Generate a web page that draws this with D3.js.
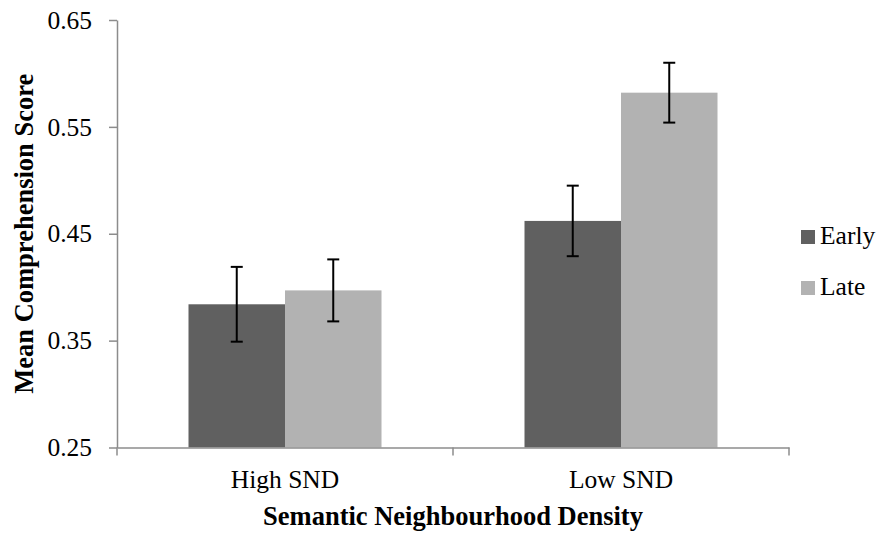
<!DOCTYPE html>
<html>
<head>
<meta charset="utf-8">
<script src="https://cdn.jsdelivr.net/npm/d3@7"></script>
<style>
	body { margin: 0; background: #fff; }
</style>
</head>
<body>
<div class="container"></div>
<script>
// chart data
var categories = ["High SND", "Low SND"];
var seriesNames = ["Early", "Late"];
var earlyValues = [0.384, 0.462];
var lateValues = [0.397, 0.582];
var earlyErrors = [0.035, 0.033];
var lateErrors = [0.029, 0.028];
var yTicks = [0.25, 0.35, 0.45, 0.55, 0.65];

(function() {
	var width = 879, height = 533;
	var margin = {left: 117, right: 90, top: 20, bottom: 86};
	var colors = {Early: "#606060", Late: "#b2b2b2"};
	var fontFamily = "'Liberation Serif', 'Times New Roman', serif";

	var svg = d3.select(".container").append("svg")
		.attr("width", width)
		.attr("height", height);

	var x0 = d3.scaleBand()
		.domain(categories)
		.range([margin.left, 789]);

	var x1 = d3.scaleBand()
		.domain(seriesNames)
		.range([0, 193]);

	var y = d3.scaleLinear()
		.domain([0.25, 0.65])
		.range([447.5, 20]);

	var rows = [];
	categories.forEach(function(c, i) {
		rows.push({cat: c, series: "Early", value: earlyValues[i], err: earlyErrors[i]});
		rows.push({cat: c, series: "Late", value: lateValues[i], err: lateErrors[i]});
	});

	var groupOffset = (x0.bandwidth() - 193) / 2;

	// bars
	svg.append("g").selectAll("rect")
		.data(rows)
		.enter().append("rect")
		.attr("x", function(d) { return x0(d.cat) + groupOffset + x1(d.series); })
		.attr("y", function(d) { return y(d.value); })
		.attr("width", x1.bandwidth())
		.attr("height", function(d) { return y(0.25) - y(d.value); })
		.style("fill", function(d) { return colors[d.series]; });

	// y axis
	var yAxis = d3.axisLeft(y)
		.tickValues(yTicks)
		.tickFormat(d3.format(".2f"))
		.tickSizeInner(8)
		.tickSizeOuter(0)
		.tickPadding(17);
	var gy = svg.append("g")
		.attr("transform", "translate(" + margin.left + ",0)")
		.call(yAxis);
	gy.select(".domain").attr("stroke", "#8c8c8c").attr("stroke-width", 1.5);
	gy.selectAll(".tick line").attr("stroke", "#8c8c8c").attr("stroke-width", 1.5);
	gy.selectAll(".tick text")
		.style("font-family", fontFamily)
		.style("font-size", "25.5px")
		.style("fill", "#000");

	// x axis
	var xAxis = d3.axisBottom(x0)
		.tickSize(0)
		.tickPadding(22);
	var gx = svg.append("g")
		.attr("transform", "translate(0," + y(0.25) + ")")
		.call(xAxis);
	gx.select(".domain").attr("stroke", "#8c8c8c").attr("stroke-width", 1.5);
	gx.selectAll(".tick text")
		.style("font-family", fontFamily)
		.style("font-size", "25.5px")
		.style("fill", "#000");

	// x axis boundary ticks
	var bounds = [margin.left, x0("Low SND"), 789];
	svg.append("g").selectAll("line")
		.data(bounds)
		.enter().append("line")
		.attr("x1", function(d) { return d; })
		.attr("x2", function(d) { return d; })
		.attr("y1", y(0.25))
		.attr("y2", y(0.25) + 8)
		.attr("stroke", "#8c8c8c")
		.attr("stroke-width", 1.5);

	// error bars
	var errG = svg.append("g").selectAll("g")
		.data(rows)
		.enter().append("g")
		.attr("transform", function(d) {
			return "translate(" + (x0(d.cat) + groupOffset + x1(d.series) + x1.bandwidth() / 2) + ",0)";
		});
	errG.append("line")
		.attr("x1", 0).attr("x2", 0)
		.attr("y1", function(d) { return y(d.value + d.err); })
		.attr("y2", function(d) { return y(d.value - d.err); })
		.attr("stroke", "#000").attr("stroke-width", 2);
	[1, -1].forEach(function(s) {
		errG.append("line")
			.attr("x1", -6).attr("x2", 6)
			.attr("y1", function(d) { return y(d.value + s * d.err); })
			.attr("y2", function(d) { return y(d.value + s * d.err); })
			.attr("stroke", "#000").attr("stroke-width", 2);
	});

	// axis titles
	svg.append("text")
		.attr("transform", "translate(33," + ((20 + 447.5) / 2) + ") rotate(-90)")
		.attr("text-anchor", "middle")
		.style("font-family", fontFamily)
		.style("font-size", "26.5px")
		.style("font-weight", "bold")
		.text("Mean Comprehension Score");

	svg.append("text")
		.attr("x", 453)
		.attr("y", 525)
		.attr("text-anchor", "middle")
		.style("font-family", fontFamily)
		.style("font-size", "26.5px")
		.style("font-weight", "bold")
		.text("Semantic Neighbourhood Density");

	// legend
	var legend = svg.append("g").selectAll("g")
		.data(seriesNames)
		.enter().append("g")
		.attr("transform", function(d, i) { return "translate(801," + (230 + i * 51) + ")"; });
	legend.append("rect")
		.attr("width", 14).attr("height", 14)
		.style("fill", function(d) { return colors[d]; });
	legend.append("text")
		.attr("x", 19)
		.attr("y", 14)
		.style("font-family", fontFamily)
		.style("font-size", "25.5px")
		.text(function(d) { return d; });
})();
</script>
</body>
</html>
